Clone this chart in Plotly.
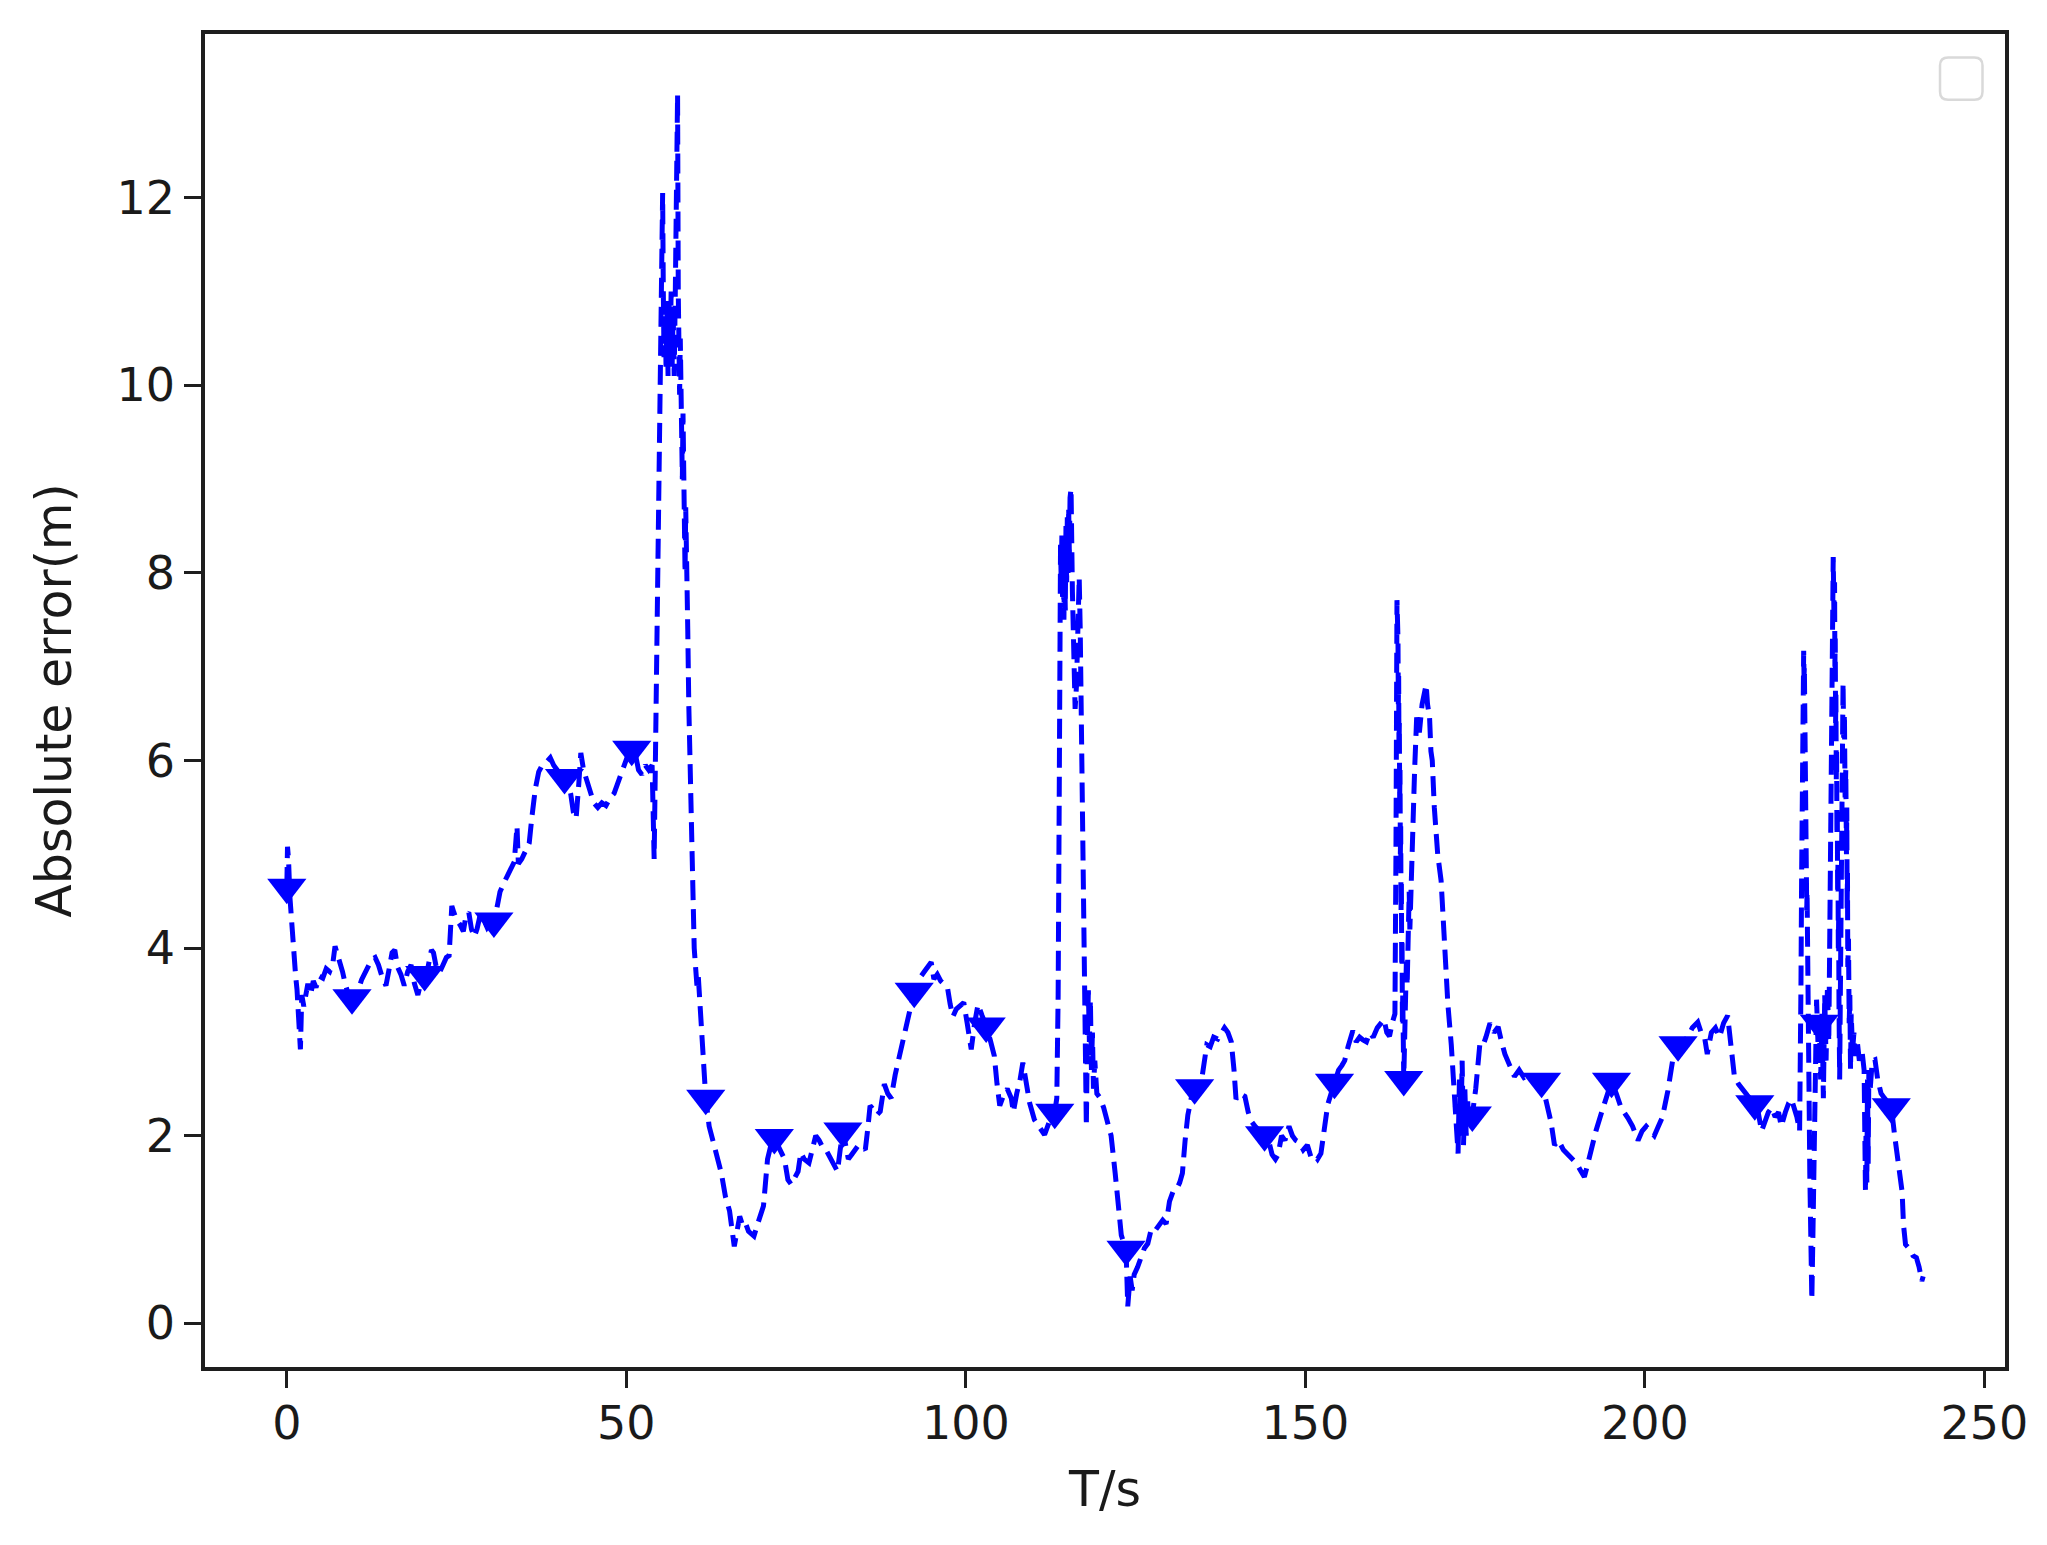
import plotly.graph_objects as go

# ---- data (time in s, absolute error in m) ----
seg_a = [(0.0,4.65),(0.1,5.08),(0.25,4.95),(0.45,4.55),(0.7,4.25),(1.0,3.95),(1.3,3.7),(1.5,3.56),(1.7,3.3),(1.85,3.05),(2.0,2.92),(2.1,3.2),(2.2,3.5),(2.5,3.38),(2.8,3.55),(3.1,3.62),(3.5,3.5),(3.9,3.65),(4.3,3.58),(4.8,3.7),(5.3,3.68),(5.8,3.78),(6.3,3.75),(6.8,3.85),(7.1,4.02),(7.4,3.95),(7.8,3.82),(8.2,3.75),(8.6,3.62),(9.0,3.52),(9.6,3.47),(10.0,3.5),(10.5,3.55),(11.0,3.66),(11.5,3.74),(12.0,3.8),(12.5,3.88),(13.0,3.9),(13.5,3.82),(14.0,3.7),(14.6,3.6),(15.0,3.75),(15.5,3.95),(15.9,3.98),(16.3,3.8),(16.8,3.72),(17.3,3.6),(17.8,3.75),(18.3,3.82),(18.8,3.62),(19.3,3.5),(19.8,3.65),(20.3,3.72),(20.8,3.8),(21.3,3.98),(21.6,3.95),(22.0,3.8),(22.5,3.74),(23.0,3.82),(23.5,3.9),(23.9,3.92),(24.1,4.15),(24.3,4.45),(24.6,4.38),(25.0,4.3),(25.5,4.25),(26.0,4.18),(26.4,4.35),(26.8,4.38),(27.2,4.2),(27.6,4.12),(28.0,4.2),(28.5,4.36),(29.0,4.3),(29.5,4.22),(30.0,4.27),(30.5,4.29),(31.0,4.45),(31.4,4.6),(32.0,4.7),(32.5,4.78),(33.0,4.85),(33.5,4.92),(33.9,5.3),(34.1,4.9),(34.6,4.95),(35.2,5.05),(35.7,5.12),(36.1,5.4),(36.6,5.7),(37.1,5.88),(37.6,5.95),(38.2,5.98),(38.8,6.03),(39.3,5.95),(39.8,5.9),(40.3,5.75),(40.9,5.82),(41.3,5.8),(41.8,5.65),(42.2,5.45),(42.6,5.38),(43.0,5.75),(43.3,6.08),(43.7,5.9),(44.2,5.78),(44.7,5.65),(45.2,5.55),(45.8,5.5),(46.4,5.55),(47.0,5.52),(47.6,5.6),(48.2,5.65),(48.7,5.75),(49.2,5.85),(49.7,5.95),(50.2,6.05),(50.8,6.12),(51.3,6.08),(51.8,5.9),(52.3,5.85),(52.8,5.95),(53.3,5.9),(53.8,5.95),(54.0,5.4),(54.1,4.95)]
seg_b = [(54.25,5.8),(54.45,6.8),(54.65,8.0),(54.85,9.3),(55.05,10.6),(55.2,11.4),(55.35,12.05),(55.45,11.0),(55.55,10.3),(55.7,10.9),(55.85,10.2),(56.0,10.8),(56.15,10.1),(56.3,10.9),(56.45,10.3),(56.6,11.0),(56.75,10.2),(56.9,10.8),(57.05,10.1),(57.2,10.9),(57.35,11.6),(57.55,13.1),(57.65,11.0),(57.75,10.6),(57.85,9.9),(57.95,10.5),(58.05,9.4),(58.15,10.2),(58.25,9.0),(58.35,9.7),(58.45,8.5),(58.55,9.2),(58.65,8.0),(58.75,8.7),(58.85,7.6),(58.95,8.1),(59.05,7.4),(59.2,6.6),(59.4,5.8),(59.6,5.0),(59.8,4.3),(60.0,4.0),(60.2,3.8),(60.4,3.6),(60.6,3.7),(60.8,3.45),(61.0,3.2),(61.2,2.95),(61.4,2.7),(61.7,2.4)]
seg_c = [(62.2,2.1),(62.7,1.96),(63.3,1.8),(64.0,1.6),(64.6,1.35),(65.2,1.2),(65.9,0.82),(66.3,1.0),(66.7,1.14),(67.1,1.05),(67.5,1.08),(68.0,0.98),(68.5,0.95),(68.8,0.93),(69.3,1.05),(69.8,1.15),(70.2,1.25),(70.5,1.5),(70.8,1.75),(71.3,1.9),(71.8,1.98),(72.3,1.9),(72.8,1.82),(73.3,1.75),(73.8,1.53),(74.3,1.48),(74.8,1.55),(75.3,1.62),(75.7,1.82),(76.2,1.75),(76.9,1.71),(77.4,1.85),(77.9,2.0),(78.4,1.95),(78.9,1.88),(79.4,1.85),(79.9,1.78),(80.4,1.7),(81.1,1.62),(81.5,1.85),(81.9,2.05),(82.3,1.9),(82.7,1.75),(83.2,1.8),(83.7,1.85),(84.2,1.9),(84.7,1.88),(85.2,1.85),(85.6,2.1),(85.9,2.32),(86.4,2.28),(86.9,2.22),(87.4,2.26),(88.0,2.55),(88.5,2.45),(89.0,2.4),(89.6,2.65),(90.2,2.85),(90.8,3.05),(91.4,3.26),(91.9,3.42),(92.4,3.54),(92.9,3.6),(93.4,3.7),(93.9,3.75),(94.4,3.8),(94.9,3.85),(95.3,3.67),(95.8,3.72),(96.3,3.65),(96.8,3.62),(97.3,3.58),(97.7,3.4),(98.1,3.27),(98.6,3.35),(99.1,3.38),(99.7,3.42),(100.2,3.2),(100.8,2.92),(101.3,3.2),(101.8,3.4),(102.4,3.28),(103.0,3.17),(103.6,3.02),(104.2,2.85),(104.6,2.55),(105.0,2.32),(105.5,2.42),(106.1,2.5),(106.7,2.4),(107.0,2.25),(107.5,2.45),(108.0,2.6),(108.4,2.78),(108.9,2.55),(109.4,2.35),(110.1,2.17),(110.8,2.1),(111.6,2.01),(112.3,2.15),(113.1,2.25)]
seg_d = [(113.4,2.4),(113.6,3.5),(113.75,5.5),(113.85,7.5),(113.95,8.3),(114.05,7.9),(114.15,8.4),(114.25,7.7),(114.35,8.3),(114.45,7.5),(114.55,8.2),(114.65,7.6),(114.75,8.5),(114.85,7.9),(114.95,8.6),(115.05,8.0),(115.15,8.7),(115.25,8.2),(115.35,8.8),(115.5,8.9),(115.7,7.8),(115.9,7.0),(116.1,6.55),(116.3,6.8),(116.5,7.5),(116.7,7.95),(116.85,7.4),(117.0,6.5),(117.15,5.2),(117.3,4.0),(117.45,3.0),(117.6,2.4),(117.75,2.1),(117.9,3.0),(118.05,3.55),(118.2,3.0),(118.35,3.45),(118.5,2.7),(118.65,3.1),(118.8,2.5),(119.0,2.8),(119.3,2.45),(119.8,2.4),(120.3,2.3),(120.8,2.15),(121.4,2.0),(122.0,1.6),(122.5,1.2),(122.9,0.94),(123.3,0.85),(123.6,0.79),(123.85,0.18),(124.2,0.5),(124.5,0.35),(124.8,0.52),(125.3,0.6),(125.8,0.72),(126.3,0.8),(126.8,0.85),(127.3,1.0),(127.8,0.98),(128.5,1.05),(129.0,1.1),(129.5,1.06),(130.0,1.3),(130.5,1.4),(131.0,1.42),(131.5,1.5),(131.9,1.6),(132.3,1.95),(132.7,2.22),(133.2,2.4),(133.7,2.51),(134.2,2.6),(134.8,2.63),(135.2,2.8),(135.5,2.97),(136.0,2.95),(136.5,3.05),(137.1,3.03),(137.6,3.1),(138.1,3.15),(138.6,3.1),(139.1,3.0),(139.5,2.7),(139.8,2.39),(140.4,2.45),(141.1,2.42),(141.6,2.25),(142.0,2.16),(142.6,2.1),(143.3,2.05),(144.0,2.01),(144.6,1.95),(145.1,1.8),(145.6,1.75),(146.0,1.8),(146.5,2.0),(147.0,1.95),(147.6,2.1),(148.1,2.0),(148.6,1.95),(149.1,1.93),(149.7,1.85),(150.3,1.9),(150.8,1.78),(151.3,1.8),(151.8,1.75),(152.3,1.81),(152.8,2.1),(153.3,2.33),(153.8,2.45),(154.3,2.57),(154.9,2.7),(155.4,2.75),(155.8,2.8),(156.3,2.95),(157.0,3.12),(157.5,3.0),(158.0,3.05),(158.5,3.02),(159.0,3.0),(159.5,3.1),(160.0,3.05),(160.6,3.15),(161.1,3.2),(161.6,3.24),(162.0,3.1),(162.4,3.06),(162.8,3.2),(163.2,3.3)]
seg_e = [(163.35,5.0),(163.5,7.71),(163.6,7.0),(163.65,7.3),(163.7,6.6),(163.75,6.9),(163.8,6.1),(163.85,6.4),(163.9,5.6),(163.95,5.9),(164.0,5.0),(164.05,5.3),(164.1,4.4),(164.15,4.7),(164.2,3.8),(164.25,4.1),(164.3,3.2),(164.35,3.5),(164.5,2.6),(164.6,3.0),(164.7,3.6),(164.8,3.3),(164.9,3.9),(165.0,3.6),(165.1,4.3),(165.2,3.9),(165.3,4.6),(165.4,4.2),(165.5,4.5),(165.7,4.7),(165.9,5.3),(166.1,5.9),(166.4,6.46),(166.8,6.3),(167.2,6.6),(167.6,6.75),(167.8,6.81),(168.0,6.6),(168.3,6.46),(168.5,6.1),(168.7,6.0),(169.0,5.5),(169.5,5.0),(170.0,4.72),(170.5,4.0),(171.0,3.4),(171.5,2.97),(172.0,2.4),(172.5,1.81),(172.7,2.6),(172.9,2.0),(173.1,2.8),(173.3,1.9),(173.5,2.5),(173.7,2.0),(173.9,2.4),(174.1,2.1),(174.6,2.22),(175.1,2.5),(175.7,2.97),(176.1,2.95),(176.6,3.05),(177.2,3.2),(177.8,3.1),(178.4,3.16),(178.9,3.0),(179.4,2.87),(180.1,2.75),(180.8,2.63),(181.5,2.7),(182.2,2.62),(183.0,2.65),(183.8,2.6),(184.8,2.58),(185.5,2.35),(186.2,2.14),(186.7,1.9),(187.3,1.95),(188.0,1.85),(188.7,1.8),(189.3,1.75),(190.0,1.7),(190.6,1.62),(191.1,1.56),(191.6,1.7),(192.1,1.85),(192.8,2.05),(193.6,2.24),(194.3,2.4),(195.1,2.58),(195.8,2.45),(196.5,2.3),(197.5,2.19),(198.2,2.1),(199.0,1.95),(199.6,2.05),(200.2,2.1),(200.8,2.05),(201.4,2.0),(202.0,2.1),(202.6,2.2),(203.4,2.48),(204.1,2.8),(204.9,2.97),(205.6,3.0),(206.3,3.05),(207.0,3.15),(207.8,3.21),(208.3,3.1),(208.8,3.05),(209.2,2.87),(209.8,3.1),(210.4,3.15),(211.0,3.05),(211.6,3.2),(212.2,3.28),(212.7,3.0),(213.2,2.63),(213.8,2.55),(214.5,2.48),(215.1,2.43),(216.2,2.34),(216.7,2.25),(217.2,2.05),(217.7,2.15),(218.2,2.25),(218.7,2.3),(219.2,2.2),(219.7,2.25),(220.1,2.1),(220.7,2.25),(221.2,2.35),(221.6,2.39),(222.0,2.3),(222.4,2.2),(222.8,2.05)]
seg_f = [(222.9,2.6),(223.0,3.6),(223.1,4.8),(223.2,6.0),(223.3,6.8),(223.4,7.17),(223.45,6.9),(223.5,7.0),(223.55,6.4),(223.6,6.6),(223.65,5.8),(223.7,6.0),(223.75,5.1),(223.8,5.3),(223.85,4.4),(223.9,4.6),(223.95,3.7),(224.0,3.9),(224.05,3.0),(224.1,3.2),(224.2,2.4),(224.3,1.6),(224.45,0.9),(224.6,0.25),(224.75,0.9),(224.9,1.8),(225.0,2.7),(225.1,3.1),(225.3,3.45),(225.5,3.0),(225.7,3.2),(225.9,2.6),(226.1,3.3),(226.3,2.4),(226.5,3.5),(226.7,2.8),(226.9,3.6),(227.1,3.0),(227.3,4.5),(227.45,6.0),(227.6,7.3),(227.75,8.17),(227.85,7.6),(227.95,7.9),(228.0,7.0),(228.05,7.3),(228.1,6.4),(228.15,6.7),(228.2,5.8),(228.25,6.1),(228.3,5.2),(228.35,5.5),(228.4,4.6),(228.45,4.9),(228.5,4.0),(228.55,4.3),(228.6,3.4),(228.7,2.6),(228.8,3.5),(228.9,4.8),(229.0,5.9),(229.1,6.5),(229.2,6.83),(229.3,6.2),(229.4,6.5),(229.5,5.6),(229.6,5.9),(229.7,5.0),(229.75,5.5),(229.8,4.4),(229.85,4.8),(229.9,3.8),(230.0,4.1),(230.1,3.2),(230.2,3.5),(230.3,2.7),(230.4,3.3),(230.6,2.9),(230.8,3.1),(231.0,2.85),(231.3,3.0),(231.6,2.8),(232.0,2.9),(232.3,2.7),(232.4,2.0),(232.5,1.4),(232.6,2.2),(232.7,1.5),(232.8,2.6),(232.9,1.7),(233.0,2.7),(233.2,2.5),(233.5,2.8),(233.9,2.81),(234.3,2.6),(234.8,2.45),(235.3,2.4),(235.8,2.35),(236.3,2.31),(236.8,2.0),(237.2,1.78),(237.6,1.55),(237.9,1.4),(238.1,1.05),(238.4,0.84),(239.0,0.79),(239.5,0.72),(240.0,0.7),(240.4,0.6),(240.8,0.45),(241.0,0.5)]

# times at which the triangle markers sit (every ~10.3 s)
marker_times = [0.0, 9.6, 20.3, 30.5, 40.9, 50.8, 61.7, 71.8, 81.9, 92.4, 103.0, 113.1,
                123.6, 133.7, 144.0, 154.3, 164.5, 174.6, 184.8, 195.1, 204.9, 216.2, 225.7, 236.3]

x_ticks = [0, 50, 100, 150, 200, 250]
y_ticks = [0, 2, 4, 6, 8, 10, 12]

pairs = seg_a + seg_b + seg_c + seg_d + seg_e + seg_f
t = [p[0] for p in pairs]
err = [p[1] for p in pairs]

mk_t, mk_e = [], []
for mt in marker_times:
    i = min(range(len(t)), key=lambda k: abs(t[k] - mt))
    mk_t.append(t[i]); mk_e.append(err[i])

BLUE = "#0000ff"
fig = go.Figure()
fig.add_trace(go.Scatter(x=t, y=err, mode="lines",
                         line=dict(color=BLUE, width=5, dash="20px,9px"),
                         showlegend=False, hoverinfo="skip"))
fig.add_trace(go.Scatter(x=mk_t, y=mk_e, mode="markers",
                         marker=dict(symbol="triangle-down", size=34, color=BLUE, line=dict(width=0)),
                         showlegend=False, hoverinfo="skip"))

# matplotlib-like 5% autoscale margins
xspan = max(t) - min(t)
yspan = max(err) - min(err)
xr = [min(t) - 0.05 * xspan, max(t) + 0.05 * xspan]
yr = [min(err) - 0.05 * yspan, max(err) + 0.05 * yspan]

FONT = "DejaVu Sans"
axis_common = dict(showgrid=False, zeroline=False, showline=True, mirror=True,
                   linecolor="#1e1e1e", linewidth=3.5, ticks="outside",
                   ticklen=17, tickwidth=3, tickcolor="#1e1e1e",
                   tickfont=dict(family=FONT, size=46, color="#1a1a1a"))
fig.update_xaxes(range=xr, tickvals=x_ticks, ticktext=[str(v) for v in x_ticks],
                 ticklabelstandoff=-4,
                 title=dict(text="T/s", font=dict(family=FONT, size=49, color="#1a1a1a"), standoff=24),
                 **axis_common)
fig.update_yaxes(range=yr, tickvals=y_ticks, ticktext=[str(v) for v in y_ticks],
                 title=dict(text="Absolute error(m)", font=dict(family=FONT, size=49, color="#1a1a1a"), standoff=30),
                 **axis_common)

# empty legend frame (top-right), in paper coordinates
x0, x1, yT, yB = 0.9639, 0.9875, 0.9824, 0.9506
dx, dy = 0.0045, 0.006
path = (f"M{x0+dx},{yT} L{x1-dx},{yT} Q{x1},{yT} {x1},{yT-dy} L{x1},{yB+dy} Q{x1},{yB} {x1-dx},{yB} "
        f"L{x0+dx},{yB} Q{x0},{yB} {x0},{yB+dy} L{x0},{yT-dy} Q{x0},{yT} {x0+dx},{yT} Z")
fig.add_shape(type="path", path=path, xref="paper", yref="paper",
              line=dict(color="#d9d9d9", width=2.5), fillcolor="rgba(255,255,255,0.8)")

fig.update_layout(width=2047, height=1545, plot_bgcolor="white", paper_bgcolor="white",
                  margin=dict(l=197, r=50, t=26, b=186), showlegend=False)

fig.write_html("out.html")
